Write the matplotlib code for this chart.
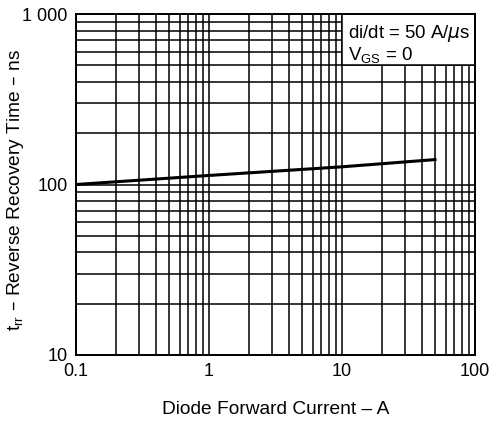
import numpy as np
import matplotlib
matplotlib.use('Agg')
import matplotlib.pyplot as plt
from matplotlib.ticker import FixedLocator, NullFormatter
from matplotlib.patches import Rectangle

plt.rcParams['font.family'] = ['Liberation Sans', 'DejaVu Sans']

# curva (corrente A, tempo ns)
current = [0.1, 1, 10, 50]
trr = [100, 113, 127, 140]

xticks = [0.1, 1, 10, 100]
xlabels = ['0.1', '1', '10', '100']
yticks = [10, 100, 1000]
ylabels = ['10', '100', '1 000']

fig = plt.figure(figsize=(4.92, 4.21), dpi=100)
ax = fig.add_axes([0.1545, 0.1568, 0.811, 0.8099])

ax.set_xscale('log')
ax.set_yscale('log')
ax.set_xlim(0.1, 100)
ax.set_ylim(10, 1000)
ax.set_axisbelow(True)

ax.plot(current, trr, color='black', lw=2.2, zorder=3)

ax.xaxis.set_major_locator(FixedLocator(xticks))
ax.set_xticklabels(xlabels)
ax.yaxis.set_major_locator(FixedLocator(yticks))
ax.set_yticklabels(ylabels)
ax.xaxis.set_minor_formatter(NullFormatter())
ax.yaxis.set_minor_formatter(NullFormatter())
ax.tick_params(which='both', length=0, labelsize=13, pad=6)

ax.grid(which='both', color='black', lw=1.1)
for s in ax.spines.values():
    s.set_linewidth(1.4)
    s.set_zorder(5)

ax.set_xlabel('Diode Forward Current – A', fontsize=13.8, labelpad=15)
ax.set_ylabel('t$_{\\mathregular{rr}}$ – Reverse Recovery Time – ns', fontsize=13.8)
ax.yaxis.set_label_coords(-0.125, 0.485)

# caixa de condicoes (canto superior direito, cobre a grade)
ax.add_patch(Rectangle((10, 500), 90, 500, facecolor='white', edgecolor='black',
                       lw=1.1, zorder=4))
ax.text(0.682, 0.975, 'di/dt = 50 A/$\\mu$s\nV$_{\\mathregular{GS}}$ = 0',
        transform=ax.transAxes, ha='left', va='top', fontsize=13.4, linespacing=1.15,
        zorder=6)

fig.savefig('out.png', dpi=100)
